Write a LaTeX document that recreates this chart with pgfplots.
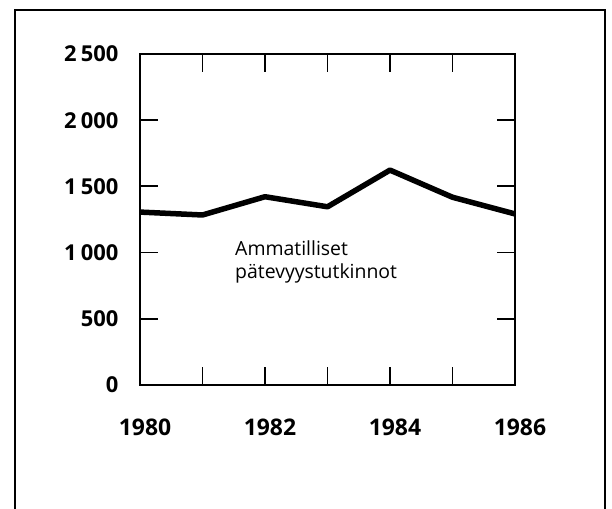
\documentclass[border=0pt]{standalone}
\usepackage{pgfplots}
\pgfplotsset{compat=1.18}
\usepackage{fontspec}
\setmainfont{Open Sans}
\begin{document}
\begin{tikzpicture}[x=1bp,y=1bp]
\path[use as bounding box] (0,0) rectangle (612,509);
\draw[line width=2.2bp] (15,-10) -- (15,499) -- (605,499) -- (605,-10);
\begin{axis}[
  at={(140bp,124bp)}, anchor=south west,
  scale only axis, width=375bp, height=331bp,
  xmin=1980, xmax=1986, ymin=0, ymax=2500,
  axis line style={line width=2bp},
  xtick={1980,...,1986},
  xticklabels={1980,,1982,,1984,,1986},
  ytick={0,500,1000,1500,2000,2500},
  yticklabels={0,500,1\kern0.2em000,1\kern0.2em500,2\kern0.2em000,2\kern0.2em500},
  tick align=inside,
  major tick length=18bp,
  tick style={line width=1.8bp, black},
  xticklabel style={font=\fontsize{23}{27}\selectfont\bfseries, yshift=-30bp, xshift=5bp},
  yticklabel style={font=\fontsize{22}{26}\selectfont\bfseries, xshift=-18bp},
  /pgf/number format/assume math mode=true,
  clip=false,
]
\addplot[black, line width=5.5bp, line join=round] coordinates {
  (1980,1306) (1981,1284) (1982,1422) (1983,1346) (1984,1623) (1985,1418) (1986,1292)
};
\node[anchor=north west, align=left, inner sep=0pt, font=\fontsize{19.5}{22.5}\selectfont] at (axis cs:1981.52,1090) {Ammatilliset\\pätevyystutkinnot};
\end{axis}
\end{tikzpicture}
\end{document}
